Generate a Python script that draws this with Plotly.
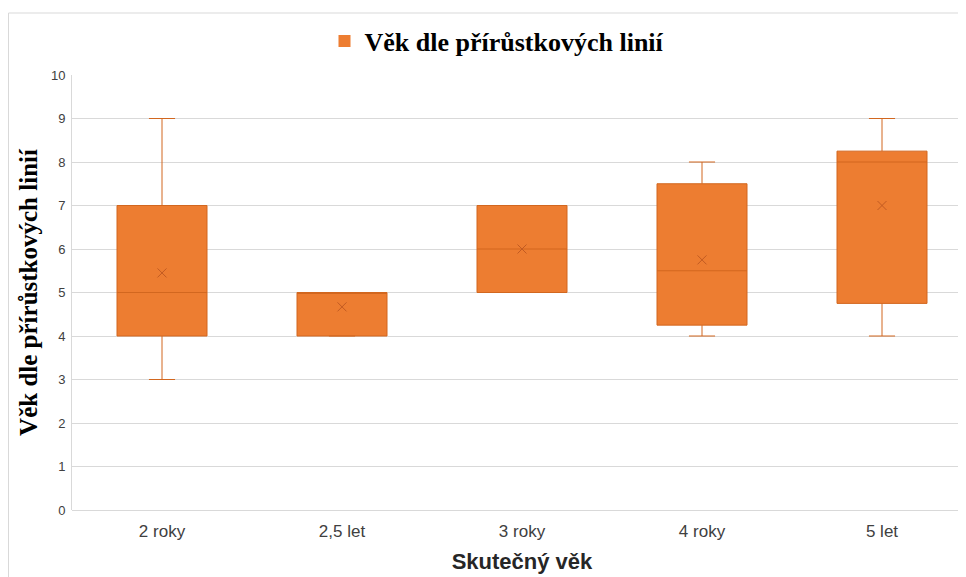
import plotly.graph_objects as go

categories = ["2 roky", "2,5 let", "3 roky", "4 roky", "5 let"]
lower_fence = [3, 4, 5, 4, 4]
q1 = [4, 4, 5, 4.25, 4.75]
median = [5, 5, 6, 5.5, 8]
q3 = [7, 5, 7, 7.5, 8.25]
upper_fence = [9, 5, 7, 8, 9]
mean = [5.45, 4.67, 6, 5.75, 7]
y_ticks = [0, 1, 2, 3, 4, 5, 6, 7, 8, 9, 10]
series_name = "Věk dle přírůstkových linií"

FILL = "#ED7D31"
EDGE = "#D2671F"
MEANC = "#C25B22"

fig = go.Figure()
fig.add_trace(go.Box(
    x=categories, q1=q1, median=median, q3=q3,
    lowerfence=lower_fence, upperfence=upper_fence,
    fillcolor=FILL, line=dict(color=EDGE, width=1),
    whiskerwidth=0.29, boxpoints=False, showlegend=False,
    hoverinfo="skip",
))
fig.add_trace(go.Scatter(
    x=categories, y=mean, mode="markers",
    marker=dict(symbol="x-thin-open", size=9, color=MEANC,
                line=dict(color=MEANC, width=1)),
    showlegend=False, hoverinfo="skip",
))
fig.add_trace(go.Scatter(
    x=[None], y=[None], mode="markers", name="<b>" + series_name + "</b>",
    marker=dict(symbol="square", size=12, color=FILL),
    showlegend=True,
))

# page is offset by the 8px body margin
OFF = 8
W, H = 966, 577
L, T = 72 - OFF, 75 - OFF
B = H - (510 - OFF)
R = W - L - 900
pw, ph = W - L - R, H - T - B

fig.update_layout(
    width=W, height=H,
    margin=dict(l=L, r=R, t=T, b=B, autoexpand=False),
    plot_bgcolor="white", paper_bgcolor="white",
    boxgap=0.5, boxgroupgap=0,
    showlegend=True,
    legend=dict(
        orientation="h", x=(497 - OFF - L) / pw, xanchor="center",
        y=(H - B - (41 - OFF)) / ph, yanchor="middle",
        font=dict(family="Liberation Serif, Times New Roman, serif", size=26, color="black"),
        itemwidth=30,
    ),
    xaxis=dict(
        type="category", range=[-0.5, 4.5], automargin=False,
        showgrid=False, showline=False, ticks="",
        ticklabelstandoff=9,
        tickfont=dict(family="Liberation Sans Narrow, Liberation Sans, Arial", size=17, color="#404040"),
        title=dict(text="<b>Skutečný věk</b>", standoff=13,
                   font=dict(family="Liberation Sans, Arial", size=22, color="#262626")),
    ),
    yaxis=dict(
        range=[0, 10], tickvals=y_ticks, automargin=False,
        showgrid=True, gridcolor="#D9D9D9", gridwidth=1,
        zeroline=True, zerolinecolor="#D9D9D9", zerolinewidth=1,
        showline=True, linecolor="#D9D9D9", linewidth=1,
        ticks="", ticklabelstandoff=3,
        tickfont=dict(family="Liberation Sans Narrow, Liberation Sans, Arial", size=13, color="#404040"),
        title=dict(text="<b>" + series_name + "</b>", standoff=6,
                   font=dict(family="Liberation Serif, Times New Roman, serif", size=25, color="black")),
    ),
    shapes=[dict(
        type="rect", xref="paper", yref="paper",
        x0=(0.5 - L) / pw, x1=1.05, y0=-0.3, y1=(H - B - (13 - OFF)) / ph,
        line=dict(color="#D9D9D9", width=1), fillcolor="rgba(0,0,0,0)", layer="below",
    )],
)

fig.write_html("out.html")
